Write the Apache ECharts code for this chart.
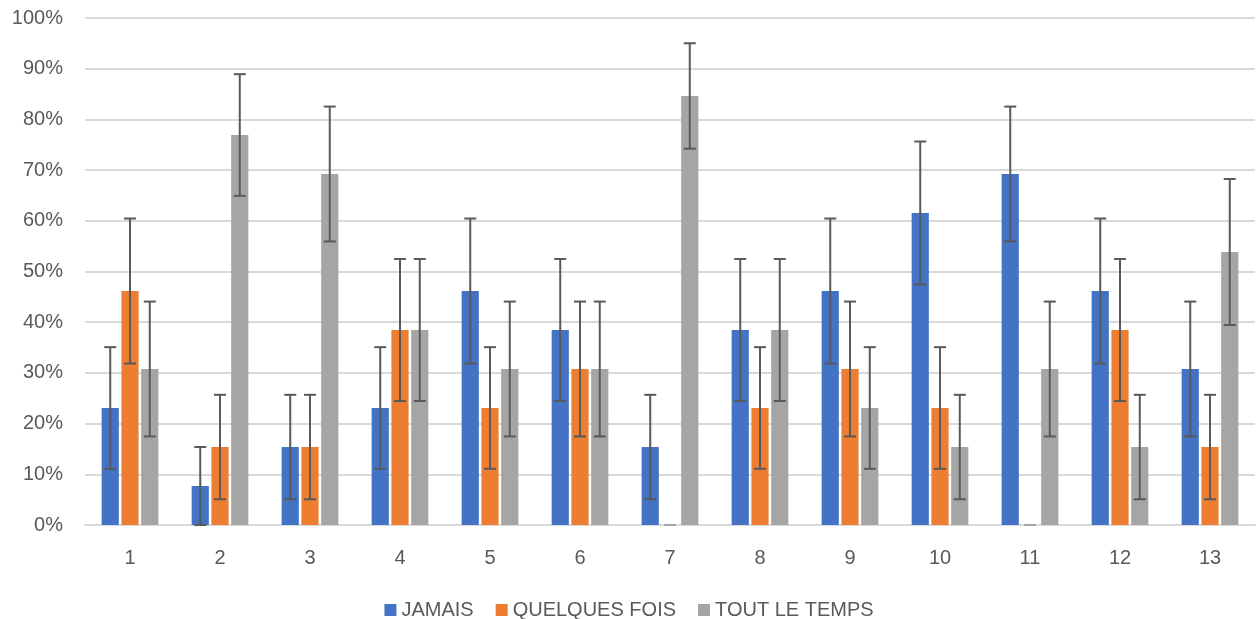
<!DOCTYPE html>
<html>
<head>
<meta charset="utf-8">
<script src="https://cdn.jsdelivr.net/npm/echarts@6/dist/echarts.min.js"></script>
<style>
  html, body { margin: 0; padding: 0; background: #fff; }
  #chart { width: 1258px; height: 619px; }
</style>
</head>
<body>
<div id="chart"></div>
<script>
const categories = ["1", "2", "3", "4", "5", "6", "7", "8", "9", "10", "11", "12", "13"];
const seriesNames = ["JAMAIS", "QUELQUES FOIS", "TOUT LE TEMPS"];

// percentages
const jamais = [23.08, 7.69, 15.38, 23.08, 46.15, 38.46, 15.38, 38.46, 46.15, 61.54, 69.23, 46.15, 30.77];
const quelquesFois = [46.15, 15.38, 15.38, 38.46, 23.08, 30.77, 0, 23.08, 30.77, 23.08, 0, 38.46, 15.38];
const toutLeTemps = [30.77, 76.92, 69.23, 38.46, 30.77, 30.77, 84.62, 38.46, 23.08, 15.38, 30.77, 15.38, 53.85];

// +/- error bar size
const jamaisErr = [12.0, 7.7, 10.3, 12.0, 14.3, 14.0, 10.3, 14.0, 14.3, 14.1, 13.3, 14.3, 13.3];
const quelquesFoisErr = [14.3, 10.3, 10.3, 14.0, 12.0, 13.3, 0, 12.0, 13.3, 12.0, 0, 14.0, 10.3];
const toutLeTempsErr = [13.3, 12.0, 13.3, 14.0, 13.3, 13.3, 10.4, 14.0, 12.0, 10.3, 13.3, 10.3, 14.4];

const yTicks = [0, 10, 20, 30, 40, 50, 60, 70, 80, 90, 100];

const colors = ["#4472C4", "#ED7D31", "#A5A5A5"];
const catGap = 0.37;
const barGap = 0.15;
const values = [jamais, quelquesFois, toutLeTemps];
const errors = [jamaisErr, quelquesFoisErr, toutLeTempsErr];

const chart = echarts.init(document.getElementById("chart"));

function errorBar(seriesIdx) {
    return function (params, api) {
        const band = api.size([1, 0])[0];
        const avail = band * (1 - catGap);
        const bw = avail / (3 + 2 * barGap);
        const offset = -avail / 2 + seriesIdx * bw * (1 + barGap) + bw / 2;
        const lo = api.coord([api.value(0), api.value(1)]);
        const hi = api.coord([api.value(0), api.value(2)]);
        const x = lo[0] + offset;
        const cap = 6;
        // zero-size bars only leave a faint tick on the axis
        const flat = api.value(1) === api.value(2);
        const style = { stroke: flat ? "#A6A6A6" : "#595959", lineWidth: 2 };
        return {
            type: "group",
            children: [
                { type: "line", shape: { x1: x, y1: lo[1], x2: x, y2: hi[1] }, style: style },
                { type: "line", shape: { x1: x - cap, y1: lo[1], x2: x + cap, y2: lo[1] }, style: style },
                { type: "line", shape: { x1: x - cap, y1: hi[1], x2: x + cap, y2: hi[1] }, style: style }
            ]
        };
    };
}

const series = [];
seriesNames.forEach((name, i) => {
    series.push({
        name: name,
        type: "bar",
        data: values[i],
        itemStyle: { color: colors[i] },
        barGap: barGap * 100 + "%",
        barCategoryGap: catGap * 100 + "%"
    });
});
seriesNames.forEach((name, i) => {
    series.push({
        type: "custom",
        name: name + " err",
        renderItem: errorBar(i),
        data: values[i].map((v, k) => [k, Math.max(0, v - errors[i][k]), v + errors[i][k]]),
        encode: { x: 0, y: [1, 2] },
        z: 10,
        silent: true
    });
});

const font = "'Liberation Sans', Arial, sans-serif";

chart.setOption({
    animation: false,
    textStyle: { fontFamily: font },
    grid: { left: 85, right: 3, top: 18, bottom: 94 },
    legend: {
        data: seriesNames,
        top: 595,
        left: "center",
        itemWidth: 12,
        itemHeight: 12,
        itemGap: 22,
        icon: "rect",
        textStyle: { color: "#595959", fontSize: 20, fontFamily: font }
    },
    xAxis: {
        type: "category",
        data: categories,
        axisLine: { lineStyle: { color: "#D9D9D9", width: 2 } },
        axisTick: { show: false },
        axisLabel: { color: "#595959", fontSize: 20, margin: 23 }
    },
    yAxis: {
        type: "value",
        min: yTicks[0],
        max: yTicks[yTicks.length - 1],
        interval: 10,
        axisLine: { show: false },
        axisTick: { show: false },
        splitLine: { lineStyle: { color: "#D9D9D9", width: 2 } },
        axisLabel: { color: "#595959", fontSize: 20, margin: 22, formatter: "{value}%" }
    },
    series: series
});
</script>
</body>
</html>
